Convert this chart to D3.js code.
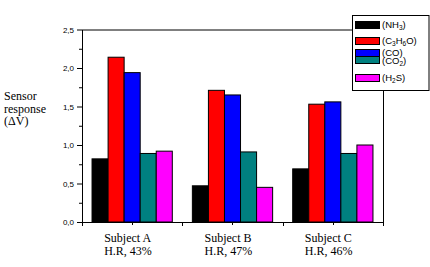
<!DOCTYPE html>
<html>
<head>
<meta charset="utf-8">
<script src="https://cdn.jsdelivr.net/npm/d3@7"></script>
<style>
  body { margin: 0; background: #fff; }
  svg { display: block; }
</style>
</head>
<body>
<svg id="chart" width="430" height="267"></svg>
<script>
// data
var subjects = ['Subject A', 'Subject B', 'Subject C'];
var humidity = ['H.R, 43%', 'H.R, 47%', 'H.R, 46%'];
var gases = ['NH3', 'C3H6O', 'CO', 'CO2', 'H2S'];
var gas_colors = ['#000000', '#ff0000', '#0000ff', '#008080', '#ff00ff'];
var nh3 = [0.82, 0.47, 0.69];
var c3h6o = [2.14, 1.71, 1.53];
var co = [1.94, 1.65, 1.56];
var co2 = [0.89, 0.91, 0.89];
var h2s = [0.92, 0.45, 1.00];
var y_ticks = [0, 0.5, 1.0, 1.5, 2.0, 2.5];

// legend labels split into [text, subscript] pieces
var legend_parts = [
  [['(NH', 0], ['3', 1], [')', 0]],
  [['(C', 0], ['3', 1], ['H', 0], ['6', 1], ['O)', 0]],
  [['(CO)', 0]],
  [['(CO', 0], ['2', 1], [')', 0]],
  [['(H', 0], ['2', 1], ['S)', 0]]
];
var legend_y = [25, 41, 53, 60, 78];

var series = [nh3, c3h6o, co, co2, h2s];

(function(){

  var svg = d3.select('#chart');

  var left = 82, right = 383, plot_top = 29.5, bottom = 222;

  var x = d3.scaleBand()
    .domain(subjects)
    .range([left, right])
    .paddingInner(0.2)
    .paddingOuter(0.1);

  var x_band = d3.scaleBand()
    .domain(subjects)
    .range([left, right]);

  var x_inner = d3.scaleBand()
    .domain(gases)
    .range([0, x.bandwidth()]);

  var y = d3.scaleLinear()
    .domain([0, 2.5])
    .range([bottom, plot_top]);

  // frame top and right
  svg.append('path')
    .attr('d', 'M' + left + ',' + (plot_top + 0.5) + 'H' + (right + 0.5) + 'V' + bottom)
    .attr('fill', 'none')
    .attr('stroke', '#000')
    .attr('stroke-width', 1);

  // bars
  subjects.forEach(function(s, i){
    var g = svg.append('g').attr('transform', 'translate(' + x(s) + ',0)');
    gases.forEach(function(gas, j){
      g.append('rect')
        .attr('x', x_inner(gas))
        .attr('y', y(series[j][i]))
        .attr('width', x_inner.bandwidth())
        .attr('height', bottom - y(series[j][i]))
        .attr('fill', gas_colors[j])
        .attr('stroke', '#000')
        .attr('stroke-width', 1);
    });
  });

  // y axis
  var y_axis = d3.axisLeft(y)
    .tickValues(y_ticks)
    .tickSizeInner(5)
    .tickSizeOuter(0)
    .tickPadding(3)
    .tickFormat(function(d){ return d3.format('.1f')(d).replace('.', ','); });

  var gy = svg.append('g')
    .attr('transform', 'translate(' + left + ',0)')
    .call(y_axis);
  gy.selectAll('text')
    .style('font-family', 'Liberation Sans, Arial, sans-serif')
    .style('font-size', '8px')
    .attr('fill', '#000');

  var gy_minor = svg.append('g')
    .attr('transform', 'translate(' + left + ',0)')
    .call(d3.axisLeft(y).tickValues([0.25, 0.75, 1.25, 1.75, 2.25]).tickSize(3).tickFormat(''));
  gy_minor.select('.domain').remove();

  // x axis
  var gx = svg.append('g')
    .attr('transform', 'translate(0,' + bottom + ')');
  gx.append('path')
    .attr('d', 'M' + left + ',0.5H' + (right + 0.5))
    .attr('stroke', '#000');
  var band_edges = [left].concat(subjects.map(function(s){ return x_band(s) + x_band.bandwidth(); }));
  gx.selectAll('.major')
    .data(band_edges)
    .enter().append('line')
    .attr('x1', function(d){ return Math.round(d) + 0.5; })
    .attr('x2', function(d){ return Math.round(d) + 0.5; })
    .attr('y1', 0).attr('y2', 4)
    .attr('stroke', '#000');
  gx.selectAll('.minor')
    .data(subjects)
    .enter().append('line')
    .attr('x1', function(d){ return Math.round(x_band(d) + x_band.bandwidth() / 2) + 0.5; })
    .attr('x2', function(d){ return Math.round(x_band(d) + x_band.bandwidth() / 2) + 0.5; })
    .attr('y1', 0).attr('y2', 3)
    .attr('stroke', '#000');

  subjects.forEach(function(s, i){
    var cx = x_band(s) + x_band.bandwidth() / 2;
    var t = svg.append('text')
      .attr('x', cx - 28)
      .attr('y', 242)
      .style('font-family', 'Liberation Serif, Times New Roman, serif')
      .style('font-size', '12px')
      .attr('fill', '#000');
    t.append('tspan').attr('x', cx - 28).text(s);
    t.append('tspan').attr('x', cx - 28).attr('dy', 13).text(humidity[i]);
  });

  // y label
  var yl = svg.append('text')
    .style('font-family', 'Liberation Serif, Times New Roman, serif')
    .style('font-size', '12px')
    .attr('fill', '#000');
  ['Sensor', 'response', '(\u0394V)'].forEach(function(l, i){
    yl.append('tspan').attr('x', 4).attr('y', 100 + i * 12.7).text(l);
  });

  // legend
  var lg = svg.append('g');
  lg.append('rect')
    .attr('x', 352.5).attr('y', 15.5)
    .attr('width', 76.5).attr('height', 75)
    .attr('fill', '#fff')
    .attr('stroke', '#000');
  // small baseline nudges so the two close rows don't collide
  var text_dy = [3.4, 3.4, 2.8, 4.2, 3.4];
  gases.forEach(function(gas, j){
    lg.append('rect')
      .attr('x', 355.5)
      .attr('y', legend_y[j] - 3.5)
      .attr('width', 24).attr('height', 7)
      .attr('fill', gas_colors[j])
      .attr('stroke', '#000');
    var t = lg.append('text')
      .attr('x', 382)
      .attr('y', legend_y[j] + text_dy[j])
      .style('font-family', 'Liberation Sans, Arial, sans-serif')
      .style('font-size', '9.5px')
      .attr('fill', '#000');
    var sub = false;
    legend_parts[j].forEach(function(p){
      var ts = t.append('tspan').text(p[0]);
      if (p[1] && !sub){ ts.attr('dy', 2).style('font-size', '6.5px'); sub = true; }
      else if (!p[1] && sub){ ts.attr('dy', -2); sub = false; }
    });
  });

})();
</script>
</body>
</html>
